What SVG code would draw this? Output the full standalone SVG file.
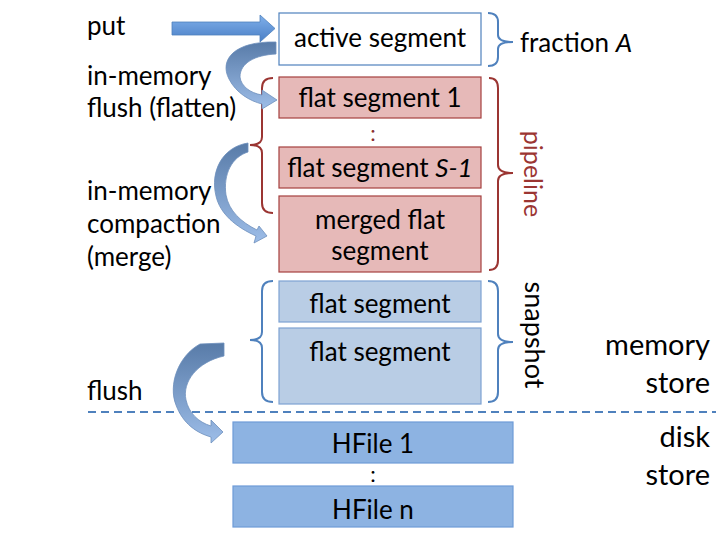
<svg xmlns="http://www.w3.org/2000/svg" width="720" height="540" viewBox="0 0 720 540">
<style>
text{font-family:Lato,"Liberation Sans",sans-serif;font-size:26px;fill:#000}
.c{text-anchor:middle}
.r{text-anchor:end;font-size:29px}
.dots{font-size:22px}
.act{fill:#fff;stroke:#4f81bd;stroke-width:1.2}
.pipe{fill:#e6b9b8;stroke:#a5403e;stroke-width:1.2}
.snap{fill:#b9cde5;stroke:#7ea2d2;stroke-width:1.2}
.hf{fill:#8db3e2;stroke:#6e9bd8;stroke-width:1.2}
.bb{fill:none;stroke:#4f81bd;stroke-width:2}
.rb{fill:none;stroke:#9b3532;stroke-width:2}
.arr{fill:url(#gc);stroke:#6d8fbd;stroke-width:0.8}
</style>
<defs>
<linearGradient id="gp" x1="0" y1="0" x2="0" y2="1">
<stop offset="0" stop-color="#80b0ea"/><stop offset="1" stop-color="#4a7fc6"/>
</linearGradient>
<linearGradient id="gc" x1="0" y1="0" x2="0" y2="1">
<stop offset="0" stop-color="#587ba8"/><stop offset="1" stop-color="#9dbde8"/>
</linearGradient>
</defs>

<g id="node-active">
<rect class="act" x="279" y="13" width="202" height="52"/>
<text class="c" x="380" y="47">active segment</text>
</g>
<g id="node-flat1">
<rect class="pipe" x="279" y="77" width="202" height="41"/>
<text class="c" x="380" y="107">flat segment 1</text>
</g>
<text class="c dots" x="373" y="141" style="fill:#8b3030">:</text>
<g id="node-flatS1">
<rect class="pipe" x="279" y="147" width="202" height="41"/>
<text class="c" x="380" y="177">flat segment <tspan font-style="italic">S-1</tspan></text>
</g>
<g id="node-merged">
<rect class="pipe" x="279" y="196" width="202" height="76"/>
<text class="c" x="380" y="229">merged flat</text>
<text class="c" x="380" y="260">segment</text>
</g>
<g id="node-snap1">
<rect class="snap" x="279" y="281" width="202" height="41"/>
<text class="c" x="380" y="313">flat segment</text>
</g>
<g id="node-snap2">
<rect class="snap" x="279" y="328" width="202" height="76"/>
<text class="c" x="380" y="361">flat segment</text>
</g>
<g id="node-hfile1">
<rect class="hf" x="233" y="422" width="280" height="41"/>
<text class="c" x="373" y="453">HFile 1</text>
</g>
<text class="c dots" x="373" y="482">:</text>
<g id="node-hfilen">
<rect class="hf" x="233" y="486" width="280" height="41"/>
<text class="c" x="373" y="519">HFile n</text>
</g>

<g id="braces">
<path class="bb" d="M488,13 Q498,13 498,22 L498,35 Q498,42 513,42 Q498,42 498,49 L498,57 Q498,66 488,66"/>
<path class="rb" d="M273,78 Q262,78 262,88 L262,137 Q262,145 250,145 Q262,145 262,153 L262,203 Q262,213 273,213"/>
<path class="rb" d="M489,78 Q498,78 498,88 L498,165 Q498,173 513,173 Q498,173 498,181 L498,260 Q498,270 489,270"/>
<path class="bb" d="M273,281 Q262,281 262,291 L262,332 Q262,340 250,340 Q262,340 262,348 L262,392 Q262,402 273,402"/>
<path class="bb" d="M488,281 Q498,281 498,291 L498,334 Q498,342 513,342 Q498,342 498,350 L498,392 Q498,402 488,402"/>
</g>

<g id="labels">
<text x="87" y="35">put</text>
<text x="87" y="85">in-memory</text>
<text x="87" y="117">flush (flatten)</text>
<text x="87" y="200">in-memory</text>
<text x="87" y="233">compaction</text>
<text x="87" y="266">(merge)</text>
<text x="87" y="400">flush</text>
<text x="520" y="52">fraction <tspan font-style="italic">A</tspan></text>
<text class="c" transform="translate(524,174) rotate(90)" style="fill:#9b3532;font-size:25px">pipeline</text>
<text class="c" transform="translate(525,335) rotate(90)" style="font-size:27px">snapshot</text>
<text class="r" x="710" y="355">memory</text>
<text class="r" x="710" y="393">store</text>
<text class="r" x="710" y="447">disk</text>
<text class="r" x="710" y="485">store</text>
</g>

<g id="connectors">
<line x1="88" y1="412" x2="716" y2="412" stroke="#4f81bd" stroke-width="2" stroke-dasharray="8,5"/>
<path d="M172,22 L260,22 L260,15 L275,28.5 L260,42 L260,35 L172,35 Z" fill="url(#gp)" stroke="#4f81bd" stroke-width="0.8"/>
<path class="arr" d="M276,42 C234,41 219,60 229,79 C236,93 250,101 262,104 L262,109 L277,100 L262,90 L262,95 C250,93 241,86 240,77 C240,63 255,55 276,54 Z"/>
<path class="arr" d="M248,143 C222,147 210,172 216,196 C220,214 236,227 256,236 L254,243 L267,236 L259,226 L257,230 C241,222 229,211 226,195 C223,174 232,157 248,152 Z"/>
<path class="arr" d="M224,343 L200,344 C178,356 168,385 176,405 C183,424 197,433 211,437 L211,443 L223,432 L211,420 L211,426 C198,422 189,413 186,400 C182,382 197,362 224,356 Z"/>
</g>
</svg>
